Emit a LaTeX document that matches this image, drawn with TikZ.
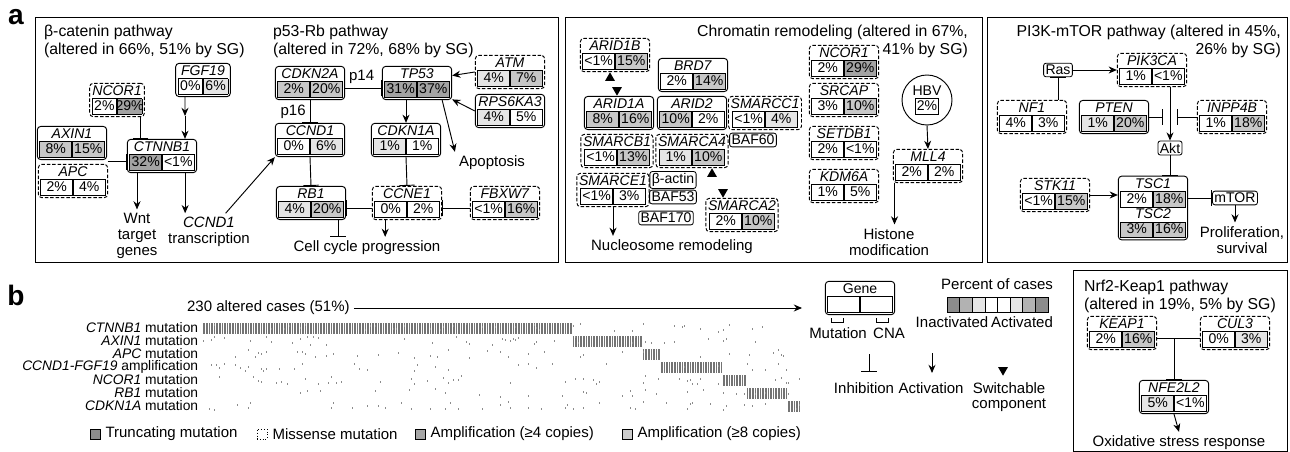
\documentclass[tikz,border=0pt]{standalone}
\usepackage{fontspec}
\setmainfont{Liberation Sans}
\usetikzlibrary{arrows.meta,positioning,shapes.geometric,calc}

\colorlet{lite}{black!10}
\colorlet{midg}{black!22}
\colorlet{dark}{black!36}

\newlength{\cw}
\setlength{\cw}{0.9cm}
\setlength{\fboxsep}{0.6pt}
\setlength{\fboxrule}{0.5pt}
\newcommand{\pc}[2][white]{\fcolorbox{black}{#1}{\makebox[\cw]{\rule[-2.4pt]{0pt}{11.6pt}#2}}}
\newcommand{\gn}[1]{\textit{#1}}

\begin{document}
\begin{tikzpicture}[
    x=0.03cm, y=-0.03cm,
    gene/.style={draw, rounded corners=3pt, line width=0.8pt, inner sep=1.8pt, align=center, font=\fontsize{12}{13}\selectfont},
    swbox/.style={gene, dash pattern=on 3pt off 1.6pt},
    narrow/.style={execute at begin node={\setlength{\cw}{0.68cm}}},
    tag/.style={draw, rounded corners=2pt, line width=0.7pt, inner sep=1.6pt, font=\fontsize{12}{13}\selectfont},
    lbl/.style={align=center, font=\fontsize{12.8}{13.4}\selectfont},
    ttl/.style={align=left, font=\fontsize{13.5}{15}\selectfont},
    act/.style={-{Stealth[length=7pt,width=6pt]}, line width=0.8pt},
    inh/.style={-{Bar[width=13pt]}, line width=0.8pt},
    panel/.style={draw, line width=0.8pt},
    tri/.style={regular polygon, regular polygon sides=3, fill, inner sep=0pt, minimum size=0.34cm},
    trid/.style={tri, shape border rotate=180},
    icon/.style={draw, minimum size=0.3cm, inner sep=0pt}
]
\useasboundingbox (0,0) rectangle (1290,452);

% Panel labels and frames
\node[font=\fontsize{24}{24}\selectfont\bfseries] (la) at (16,17) {a};
\node[font=\fontsize{24}{24}\selectfont\bfseries] (lb) at (16,295) {b};
\draw[panel] (35,17) rectangle (558,262);
\draw[panel] (565,17) rectangle (982,262);
\draw[panel] (987,17) rectangle (1287,262);
\draw[panel] (1073,270) rectangle (1287,451);

% beta-catenin pathway
\node[ttl, anchor=north west] (bcatt) at (40,21) {β-catenin pathway\\(altered in 66\%, 51\% by SG)};
\node[gene, narrow] (fgf19) at (203,80) {\gn{FGF19}\\\pc{0\%}\pc[lite]{6\%}};
\node[swbox, narrow] (ncor1a) at (117,100) {\gn{NCOR1}\\\pc{2\%}\pc[dark]{29\%}};
\node[gene] (axin1) at (72,143) {\gn{AXIN1}\\\pc[midg]{8\%}\pc[midg]{15\%}};
\node[swbox] (apc) at (73,181) {\gn{APC}\\\pc{2\%}\pc{4\%}};
\node[gene] (ctnnb1) at (162,156) {\gn{CTNNB1}\\\pc[dark]{32\%}\pc{<1\%}};
\node[lbl] (wnt) at (137,236) {Wnt\\target\\genes};
\node[lbl] (ccndtx) at (209,232) {\gn{CCND1}\\transcription};
\coordinate (fgfmid) at (185,116);
\coordinate (axjoin) at ($(axin1.south east)!0.5!(apc.north east)$);

\draw[act] ([xshift=-0.54cm]fgf19.south) -- (fgfmid);
\draw[act] (fgfmid) -- (fgfmid |- ctnnb1.north);
\draw[inh] ([xshift=-0.12cm]ncor1a.south east) -- ([xshift=-0.12cm]ncor1a.south east |- ctnnb1.north);
\draw[inh] (axjoin) -- (axjoin -| ctnnb1.west);
\draw[act] (wnt.north |- ctnnb1.south) -- (wnt.north);
\draw[act] ([xshift=-0.36cm]ctnnb1.south east) -- ([xshift=-0.36cm]ctnnb1.south east |- ccndtx.north);

% p53-Rb pathway
\node[ttl, anchor=north west] (p53t) at (269,21) {p53-Rb pathway\\(altered in 72\%, 68\% by SG)};
\node[gene] (cdkn2a) at (310,83) {\gn{CDKN2A}\\\pc[midg]{2\%}\pc[midg]{20\%}};
\node[gene] (tp53) at (417,83) {\gn{TP53}\\\pc[dark]{31\%}\pc[dark]{37\%}};
\node[swbox] (atm) at (510,72) {\gn{ATM}\\\pc[lite]{4\%}\pc[midg]{7\%}};
\node[gene] (rps6ka3) at (510,111) {\gn{RPS6KA3}\\\pc[lite]{4\%}\pc{5\%}};
\node[gene] (ccnd1) at (310,140) {\gn{CCND1}\\\pc{0\%}\pc[lite]{6\%}};
\node[gene] (cdkn1a) at (406,140) {\gn{CDKN1A}\\\pc[lite]{1\%}\pc{1\%}};
\node[gene] (rb1) at (311,203) {\gn{RB1}\\\pc[lite]{4\%}\pc[midg]{20\%}};
\node[swbox] (ccne1) at (407,203) {\gn{CCNE1}\\\pc{0\%}\pc{2\%}};
\node[swbox] (fbxw7) at (505,203) {\gn{FBXW7}\\\pc{<1\%}\pc[midg]{16\%}};
\node[lbl] (apop) at (492,163) {Apoptosis};
\node[lbl] (ccp) at (367,248) {Cell cycle progression};

\draw[act] ([xshift=0.5cm]ccndtx.north) -- (ccnd1.south west);
\draw[inh] ([yshift=-0.15cm]cdkn2a.east) -- ([yshift=-0.15cm]tp53.west) node[pos=0.45, above, lbl] {p14};
\draw[inh] (cdkn2a.south) -- (ccnd1.north) node[midway, left, lbl] {p16};
\draw[act] (atm.west) -- (tp53.12);
\draw[act] (rps6ka3.west) -- (tp53.-25);
\draw[act] ([xshift=-0.3cm]tp53.south east) -- (apop.north west);
\draw[act] (cdkn1a.north |- tp53.south) -- (cdkn1a.north);
\draw[inh] (ccnd1.south) -- (rb1.north);
\draw[inh] (cdkn1a.south) -- (ccne1.north);
\draw[inh] ([yshift=-0.15cm]fbxw7.west) -- ([yshift=-0.15cm]ccne1.east);
\draw[inh] ([yshift=-0.15cm]ccne1.west) -- ([yshift=-0.15cm]rb1.east);
\draw[inh] ([xshift=0.81cm]rb1.south) -- ([xshift=0.81cm]rb1.south |- ccp.north);
\draw[act] ([xshift=0.4cm]ccne1.south west) -- ([xshift=0.4cm]ccne1.south west |- ccp.north);

% Chromatin remodeling
\node[ttl, anchor=north east, align=right] (chrt) at (972,21) {Chromatin remodeling (altered in 67\%,\\41\% by SG)};
\node[swbox] (arid1b) at (615,55) {\gn{ARID1B}\\\pc{<1\%}\pc[midg]{15\%}};
\node[gene] (brd7) at (693,75) {\gn{BRD7}\\\pc{2\%}\pc[midg]{14\%}};
\node[gene] (arid1a) at (619,113) {\gn{ARID1A}\\\pc[midg]{8\%}\pc[midg]{16\%}};
\node[gene] (arid2) at (692,113) {\gn{ARID2}\\\pc[midg]{10\%}\pc{2\%}};
\node[swbox] (smarcc1) at (765,113) {\gn{SMARCC1}\\\pc{<1\%}\pc[lite]{4\%}};
\node[swbox] (smarcb1) at (617,151) {\gn{SMARCB1}\\\pc{<1\%}\pc[midg]{13\%}};
\node[swbox] (smarca4) at (692,151) {\gn{SMARCA4}\\\pc[lite]{1\%}\pc[midg]{10\%}};
\node[tag] (baf60) at (753,140) {BAF60};
\node[swbox] (smarce1) at (613,190) {\gn{SMARCE1}\\\pc{<1\%}\pc{3\%}};
\node[tag] (bactin) at (673,180) {β-actin};
\node[tag] (baf53) at (673,197) {BAF53};
\node[tag] (baf170) at (666,218) {BAF170};
\node[swbox] (smarca2) at (742,215) {\gn{SMARCA2}\\\pc{2\%}\pc[midg]{10\%}};
\node[tri] (sw1) at (610,78) {};
\node[trid] (sw2) at (617,90) {};
\node[tri] (sw3) at (712,174) {};
\node[trid] (sw4) at (723,192) {};
\node[lbl] (nucrem) at (672,247) {Nucleosome remodeling};

\node[swbox] (ncor1b) at (844,62) {\gn{NCOR1}\\\pc{2\%}\pc[dark]{29\%}};
\node[swbox] (srcap) at (844,100) {\gn{SRCAP}\\\pc{3\%}\pc[midg]{10\%}};
\node[swbox] (setdb1) at (844,143) {\gn{SETDB1}\\\pc{2\%}\pc{<1\%}};
\node[swbox] (kdm6a) at (844,186) {\gn{KDM6A}\\\pc{1\%}\pc{5\%}};
\node[circle, draw, line width=0.8pt, inner sep=0pt, minimum size=1.5cm, align=center, font=\fontsize{12}{13}\selectfont] (hbv) at (927,100) {HBV\\{\setlength{\cw}{0.62cm}\pc{2\%}}};
\node[swbox] (mll4) at (928,166) {\gn{MLL4}\\\pc{2\%}\pc{2\%}};
\node[lbl] (histmod) at (889,242) {Histone\\modification};

\draw[act] (smarce1.south) -- (smarce1.south |- nucrem.north);
\draw[act] (hbv.south) -- (mll4.north);
\draw[act] ([xshift=0.05cm]mll4.south west) -- ([xshift=0.05cm]mll4.south west |- histmod.north);

% PI3K-mTOR pathway
\node[ttl, anchor=north east, align=right] (pi3kt) at (1285,21) {PI3K-mTOR pathway (altered in 45\%,\\26\% by SG)};
\node[tag] (ras) at (1058,70) {Ras};
\node[swbox] (pik3ca) at (1152,70) {\gn{PIK3CA}\\\pc{1\%}\pc{<1\%}};
\node[swbox] (nf1) at (1032,117) {\gn{NF1}\\\pc{4\%}\pc{3\%}};
\node[gene] (pten) at (1114,117) {\gn{PTEN}\\\pc[lite]{1\%}\pc[midg]{20\%}};
\node[swbox] (inpp4b) at (1232,117) {\gn{INPP4B}\\\pc{1\%}\pc[midg]{18\%}};
\node[tag] (akt) at (1170,148) {Akt};
\node[swbox] (stk11) at (1055,195) {\gn{STK11}\\\pc{<1\%}\pc[midg]{15\%}};
\node[gene] (tsc) at (1153,208) {\gn{TSC1}\\\pc{2\%}\pc[midg]{18\%}\\\gn{TSC2}\\\pc[midg]{3\%}\pc[midg]{16\%}};
\node[tag] (mtor) at (1235,198) {mTOR};
\node[lbl] (prolif) at (1242,240) {Proliferation,\\survival};
\coordinate (ptenbar) at (1163,117);
\coordinate (inppbar) at (1177,117);

\draw[act] (ras.east) -- (pik3ca.west);
\draw[inh] (nf1.north -| ras.south) -- (ras.south);
\draw[act] (akt.north |- pik3ca.south) -- (akt.north);
\draw[inh] (pten.east) -- (ptenbar);
\draw[inh] (inpp4b.west) -- (inppbar);
\draw[inh] (akt.south) -- (akt.south |- tsc.north);
\draw[act] (stk11.east) -- (stk11.east -| tsc.west);
\draw[inh] (mtor.west -| tsc.east) -- (mtor.west);
\draw[act] (mtor.south) -- (mtor.south |- prolif.north);

% Nrf2-Keap1 pathway
\node[ttl, anchor=north west] (nrft) at (1080,276) {Nrf2-Keap1 pathway\\(altered in 19\%, 5\% by SG)};
\node[swbox] (keap1) at (1122,333) {\gn{KEAP1}\\\pc{2\%}\pc[midg]{16\%}};
\node[swbox] (cul3) at (1235,333) {\gn{CUL3}\\\pc{0\%}\pc[lite]{3\%}};
\node[gene] (nfe2l2) at (1174,397) {\gn{NFE2L2}\\\pc[lite]{5\%}\pc{<1\%}};
\node[lbl] (oxid) at (1179,443) {Oxidative stress response};

\draw ([yshift=-0.15cm]keap1.east) -- ([yshift=-0.15cm]cul3.west);
\draw[inh] ([yshift=-0.15cm]keap1.east -| nfe2l2.north) -- (nfe2l2.north);
\draw[act] (nfe2l2.south) -- (oxid.north);

% Key
\node[gene] (gkey) at (860,298) {Gene\\\pc{}\pc{}};
\node[lbl] (mutlab) at (838,333) {Mutation};
\node[lbl] (cnalab) at (889,333) {CNA};
\draw ([xshift=-0.5cm,yshift=-0.1cm]gkey.south) -- ++(0,-0.12cm) -- ++(-0.36cm,0) -- ++(0,0.12cm);
\draw ([xshift=0.5cm,yshift=-0.1cm]gkey.south) -- ++(0,-0.12cm) -- ++(0.36cm,0) -- ++(0,0.12cm);
\node[lbl] (pct) at (997,284) {Percent of cases};
\foreach \i/\c in {0/45,1/30,2/10,3/0,4/0,5/10,6/30,7/45}
  \draw[fill=black!\c, line width=0.5pt] (947+\i*12.6,297) rectangle ++(12.6,15);
\node[lbl] (inact) at (952,322) {Inactivated};
\node[lbl] (actv) at (1022,322) {Activated};

\coordinate (ks1) at (869,354);
\coordinate (ke1) at (869,372);
\coordinate (ks2) at (932,353);
\coordinate (ke2) at (932,373);
\draw[inh] (ks1) -- (ke1);
\draw[act] (ks2) -- (ke2);
\node[trid] (swkey) at (1003,370) {};
\node[lbl, anchor=north] (inhl) at (864,378) {Inhibition};
\node[lbl, anchor=north] (actl) at (931,378) {Activation};
\node[lbl, anchor=north] (swl) at (1009,378) {Switchable\\component};

% Panel b: altered cases
\node[lbl, anchor=west] (cases) at (183,308) {230 altered cases (51\%)};
\coordinate (casesend) at (802,308);
\draw[act] (cases.east) -- (casesend);

\foreach \t [count=\i from 0] in {\gn{CTNNB1} mutation, \gn{AXIN1} mutation, \gn{APC} mutation, \gn{CCND1-FGF19} amplification, \gn{NCOR1} mutation, \gn{RB1} mutation, \gn{CDKN1A} mutation}
  \node[anchor=east, inner sep=0.5pt, font=\fontsize{11.8}{11.8}\selectfont] (row\i) at (199,327.5+\i*13) {\t};

\foreach \r/\a/\b in {0/0/142, 1/142/169, 2/169/176, 3/176/200, 4/200/209, 5/209/225, 6/225/230}
  \fill[black!55] (203+\a*2.6,322.5+\r*13) rectangle (203+\b*2.6,333.5+\r*13);
\pgfmathsetseed{11}
\foreach \r in {0,...,6}{
  \foreach \c in {0,...,229}{
    \pgfmathtruncatemacro{\hit}{rnd<0.16}
    \ifnum\hit=1
      \fill[black!45] (203+\c*2.6,323+\r*13+8*rnd) rectangle ++(1.4,2);
    \fi
  }
}
\foreach \c in {0,...,229}
  \draw[white, line width=0.3pt] (205.2+\c*2.6,322) -- ++(0,91);

\node[icon, fill=black!45] (ictr) at (95,434) {};
\node[lbl, right=1pt of ictr] (ltr) {Truncating mutation};
\node[icon, dotted] (icms) at (262,434) {};
\node[lbl, right=1pt of icms] (lms) {Missense mutation};
\node[icon, fill=black!35] (ica4) at (420,434) {};
\node[lbl, right=1pt of ica4] (la4) {Amplification (≥4 copies)};
\node[icon, fill=black!20] (ica8) at (627,434) {};
\node[lbl, right=1pt of ica8] (la8) {Amplification (≥8 copies)};

\end{tikzpicture}
\end{document}
